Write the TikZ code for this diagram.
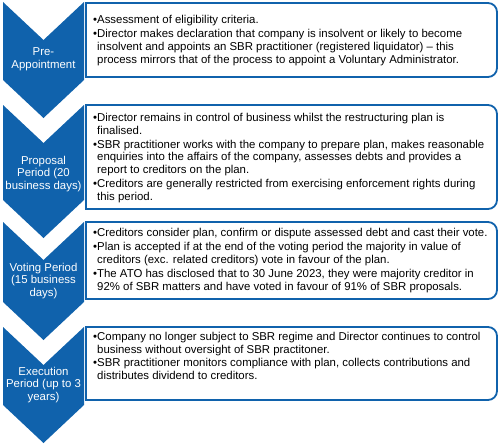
\documentclass[tikz,border=0pt]{standalone}
\usepackage{fontspec}
\setmainfont{Liberation Sans}
\usepackage{tikz}
\usetikzlibrary{calc}
\usepackage{tkz-euclide}
\definecolor{sbrblue}{RGB}{16,98,172}
\newcommand{\bul}{\textbullet}
\newcommand{\ind}{\hphantom{\textbullet}}

\begin{document}
\begin{tikzpicture}[x=1pt, y=1pt,
  stagechev/.style={fill=sbrblue, draw=none},
  stagebox/.style={draw=sbrblue, line width=1.8pt, fill=white},
  stagelabel/.style={text=white, align=center, inner sep=0pt, font=\fontsize{11.4}{12.8}\selectfont},
  stagetext/.style={anchor=west, align=left, inner sep=0pt, font=\fontsize{11.4}{12.8}\selectfont}]
\useasboundingbox (0,0) rectangle (500,-444);
% chevrons
\tkzDefPoints{3/-2/A1, 43.5/-40/B1, 84/-2/C1, 84/-80/D1, 43.5/-118/E1, 3/-80/F1}
\tkzDefPoints{3/-105/A2, 43.5/-143/B2, 84/-105/C2, 84/-200/D2, 43.5/-238/E2, 3/-200/F2}
\tkzDefPoints{3/-222/A3, 43.5/-260/B3, 84/-222/C3, 84/-302/D3, 43.5/-340/E3, 3/-302/F3}
\tkzDefPoints{3/-327/A4, 43.5/-365/B4, 84/-327/C4, 84/-405/D4, 43.5/-443/E4, 3/-405/F4}
\tkzDrawPolygon[stagechev](A1,B1,C1,D1,E1,F1)
\tkzDrawPolygon[stagechev](A2,B2,C2,D2,E2,F2)
\tkzDrawPolygon[stagechev](A3,B3,C3,D3,E3,F3)
\tkzDrawPolygon[stagechev](A4,B4,C4,D4,E4,F4)
\tkzDefPoints{43.5/-59/L1, 43.5/-174/L2, 43.5/-281/L3, 43.5/-385/L4}
\node[stagelabel] (pre) at (L1) {Pre-\\Appointment};
\node[stagelabel] (proposal) at (L2) {Proposal\\Period (20\\business days)};
\node[stagelabel] (voting) at (L3) {Voting Period\\(15 business\\days)};
\node[stagelabel] (execution) at (L4) {Execution\\Period (up to 3\\years)};

% boxes, square on the left and rounded on the right
\draw[stagebox] (86,-3) -- (488,-3) arc[start angle=90, end angle=0, radius=9]
  -- (497,-68) arc[start angle=0, end angle=-90, radius=9] -- (86,-77) -- cycle;
\draw[stagebox] (86,-105) -- (488,-105) arc[start angle=90, end angle=0, radius=9]
  -- (497,-200) arc[start angle=0, end angle=-90, radius=9] -- (86,-209) -- cycle;
\draw[stagebox] (86,-222) -- (488,-222) arc[start angle=90, end angle=0, radius=9]
  -- (497,-290) arc[start angle=0, end angle=-90, radius=9] -- (86,-299) -- cycle;
\draw[stagebox] (86,-327) -- (488,-327) arc[start angle=90, end angle=0, radius=9]
  -- (497,-391) arc[start angle=0, end angle=-90, radius=9] -- (86,-400) -- cycle;

\node[stagetext] (preinfo) at (93,-40.5) {%
\bul Assessment of eligibility criteria.\\[1pt]
\bul Director makes declaration that company is insolvent or likely to become\\
\ind insolvent and appoints an SBR practitioner (registered liquidator) – this\\
\ind process mirrors that of the process to appoint a Voluntary Administrator.};
\node[stagetext] (proposalinfo) at (93,-158) {%
\bul Director remains in control of business whilst the restructuring plan is\\
\ind finalised.\\[1pt]
\bul SBR practitioner works with the company to prepare plan, makes reasonable\\
\ind enquiries into the affairs of the company, assesses debts and provides a\\
\ind report to creditors on the plan.\\[1pt]
\bul Creditors are generally restricted from exercising enforcement rights during\\
\ind this period.};
\node[stagetext] (votinginfo) at (93,-260.5) {%
\bul Creditors consider plan, confirm or dispute assessed debt and cast their vote.\\[1pt]
\bul Plan is accepted if at the end of the voting period the majority in value of\\
\ind creditors (exc. related creditors) vote in favour of the plan.\\[1pt]
\bul The ATO has disclosed that to 30 June 2023, they were majority creditor in\\
\ind 92\% of SBR matters and have voted in favour of 91\% of SBR proposals.};
\node[stagetext] (executioninfo) at (93,-356) {%
\bul Company no longer subject to SBR regime and Director continues to control\\
\ind business without oversight of SBR practitoner.\\[1pt]
\bul SBR practitioner monitors compliance with plan, collects contributions and\\
\ind distributes dividend to creditors.};

  \end{tikzpicture}
\end{document}
